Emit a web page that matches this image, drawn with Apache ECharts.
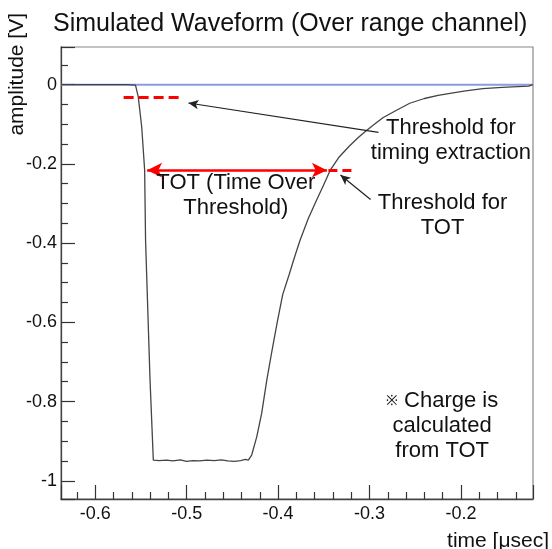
<!DOCTYPE html>
<html>
<head>
<meta charset="utf-8">
<script src="https://cdn.jsdelivr.net/npm/echarts@6/dist/echarts.min.js"></script>
<style>
html, body { margin: 0; padding: 0; background: #fff; }
#main { width: 552px; height: 549px; }
</style>
</head>
<body>
<div id="main"></div>
<script>
// waveform samples (time in usec, amplitude in V)
var timeValues = [
    -0.6375, -0.620, -0.600, -0.580, -0.565, -0.556, -0.554, -0.553, -0.5492, -0.546,
    -0.545, -0.5401, -0.5365, -0.530, -0.522, -0.515, -0.507, -0.500, -0.493, -0.486,
    -0.478, -0.470, -0.462, -0.455, -0.448, -0.441, -0.436, -0.4326, -0.4289, -0.4234,
    -0.418, -0.4124, -0.407, -0.401, -0.395, -0.388, -0.382, -0.376, -0.367, -0.358,
    -0.350, -0.343, -0.333, -0.322, -0.312, -0.303, -0.294, -0.285, -0.270, -0.256,
    -0.240, -0.225, -0.212, -0.195, -0.176, -0.155, -0.138, -0.126, -0.1215
];
var ampValues = [
    0, 0, 0, 0, 0, -0.001, -0.004, -0.031, -0.107, -0.216,
    -0.393, -0.746, -0.948, -0.949, -0.948, -0.950, -0.947, -0.951, -0.949, -0.950,
    -0.948, -0.949, -0.947, -0.950, -0.951, -0.949, -0.946, -0.948, -0.935, -0.889,
    -0.830, -0.746, -0.675, -0.600, -0.530, -0.480, -0.435, -0.393, -0.338, -0.292,
    -0.252, -0.216, -0.182, -0.155, -0.133, -0.115, -0.099, -0.083, -0.064, -0.047,
    -0.035, -0.027, -0.022, -0.016, -0.010, -0.007, -0.005, -0.004, 0
];
var baseline = [[-0.6375, 0], [-0.1212, 0]];

var timingThreshold = -0.031;
var totThreshold = -0.216;

var font = "'Liberation Sans', Arial, sans-serif";

var wave = [];
for (var i = 0; i < timeValues.length; i++) {
    wave.push([timeValues[i], ampValues[i]]);
}

function note(x, y, text) {
    return {
        coord: [x, y],
        symbol: 'circle',
        symbolSize: 1,
        itemStyle: { color: 'rgba(0,0,0,0)' },
        label: {
            show: true,
            position: 'inside',
            formatter: text,
            fontSize: 22,
            lineHeight: 25,
            align: 'center',
            verticalAlign: 'middle',
            color: '#111',
            fontFamily: font,
            rich: {
                s: { fontSize: 14, lineHeight: 25, color: '#111', fontFamily: font }
            }
        }
    };
}

var chart = echarts.init(document.getElementById('main'));
chart.setOption({
    animation: false,
    title: {
        text: 'Simulated Waveform (Over range channel)',
        left: 48,
        top: 7,
        textStyle: { fontSize: 25, fontWeight: 'normal', color: '#111', fontFamily: font }
    },
    grid: {
        left: 61, right: 19, top: 47, bottom: 50,
        show: true,
        borderColor: '#888',
        borderWidth: 1.2
    },
    xAxis: {
        type: 'value',
        min: -0.6375,
        max: -0.1212,
        splitNumber: 5,
        axisLine: { show: true, onZero: false, lineStyle: { color: '#444', width: 1.3 } },
        axisTick: { show: true, inside: true, length: 14, lineStyle: { color: '#333', width: 1.2 } },
        minorTick: { show: true, splitNumber: 5, length: 7, lineStyle: { color: '#333', width: 1.2 } },
        splitLine: { show: false },
        axisLabel: {
            showMinLabel: false, showMaxLabel: false,
            margin: 6, fontSize: 18, color: '#111', fontFamily: font
        }
    },
    yAxis: {
        type: 'value',
        min: -1.046,
        max: 0.095,
        splitNumber: 5,
        axisLine: { show: true, onZero: false, lineStyle: { color: '#444', width: 1.3 } },
        axisTick: { show: true, inside: true, length: 14, lineStyle: { color: '#333', width: 1.2 } },
        minorTick: { show: true, splitNumber: 4, length: 7, lineStyle: { color: '#333', width: 1.2 } },
        splitLine: { show: false },
        axisLabel: {
            showMinLabel: false, showMaxLabel: false,
            margin: 4, fontSize: 18, color: '#111', fontFamily: font
        }
    },
    graphic: [
        {
            type: 'text', x: 549, y: 541,
            style: { text: 'time [\u03bcsec]', font: '21px ' + font, fill: '#111', align: 'right', verticalAlign: 'middle' }
        },
        {
            type: 'text', x: 17, y: 13, rotation: Math.PI / 2,
            style: { text: 'amplitude [V]', font: '21px ' + font, fill: '#111', align: 'right', verticalAlign: 'middle' }
        }
    ],
    series: [
        {
            name: 'zero',
            type: 'line',
            data: baseline,
            symbol: 'none',
            silent: true,
            lineStyle: { color: '#8c9ae0', width: 2 }
        },
        {
            name: 'waveform',
            type: 'line',
            data: wave,
            symbol: 'none',
            silent: true,
            lineStyle: { color: '#444', width: 1.3 }
        },
        {
            // red threshold marks and the TOT arrow
            name: 'red',
            type: 'line',
            data: [],
            silent: true,
            markLine: {
                silent: true,
                label: { show: false },
                emphasis: { disabled: true },
                data: [
                    [
                        { coord: [-0.569, timingThreshold], symbol: 'none', lineStyle: { color: '#f00', width: 3, type: [10, 5] } },
                        { coord: [-0.507, timingThreshold], symbol: 'none' }
                    ],
                    [
                        { coord: [-0.5433, totThreshold], symbol: 'arrow', symbolSize: [11, 15], lineStyle: { color: '#f00', width: 2.5, type: 'solid' } },
                        { coord: [-0.3466, totThreshold], symbol: 'arrow', symbolSize: [11, 15] }
                    ],
                    [
                        { coord: [-0.345, totThreshold], symbol: 'none', lineStyle: { color: '#f00', width: 3, type: [9, 5] } },
                        { coord: [-0.316, totThreshold], symbol: 'none' }
                    ]
                ]
            }
        },
        {
            // black pointer arrows and the text notes
            name: 'notes',
            type: 'line',
            data: [],
            silent: true,
            markLine: {
                silent: true,
                label: { show: false },
                emphasis: { disabled: true },
                lineStyle: { color: '#222', width: 1.2, type: 'solid' },
                data: [
                    [
                        { coord: [-0.2902, -0.1203], symbol: 'none' },
                        { coord: [-0.4981, -0.0464], symbol: 'arrow', symbolSize: [7, 10] }
                    ],
                    [
                        { coord: [-0.2989, -0.2901], symbol: 'none' },
                        { coord: [-0.3318, -0.2281], symbol: 'arrow', symbolSize: [7, 10] }
                    ]
                ]
            },
            markPoint: {
                silent: true,
                data: [
                    note(-0.211, -0.142, 'Threshold for\ntiming extraction'),
                    note(-0.2201, -0.3297, 'Threshold for\nTOT'),
                    note(-0.4463, -0.2805, 'TOT (Time Over\nThreshold)'),
                    note(-0.2206, -0.862, '{s|\u203b} Charge is\ncalculated\nfrom TOT')
                ]
            }
        }
    ]
});
</script>
</body>
</html>
